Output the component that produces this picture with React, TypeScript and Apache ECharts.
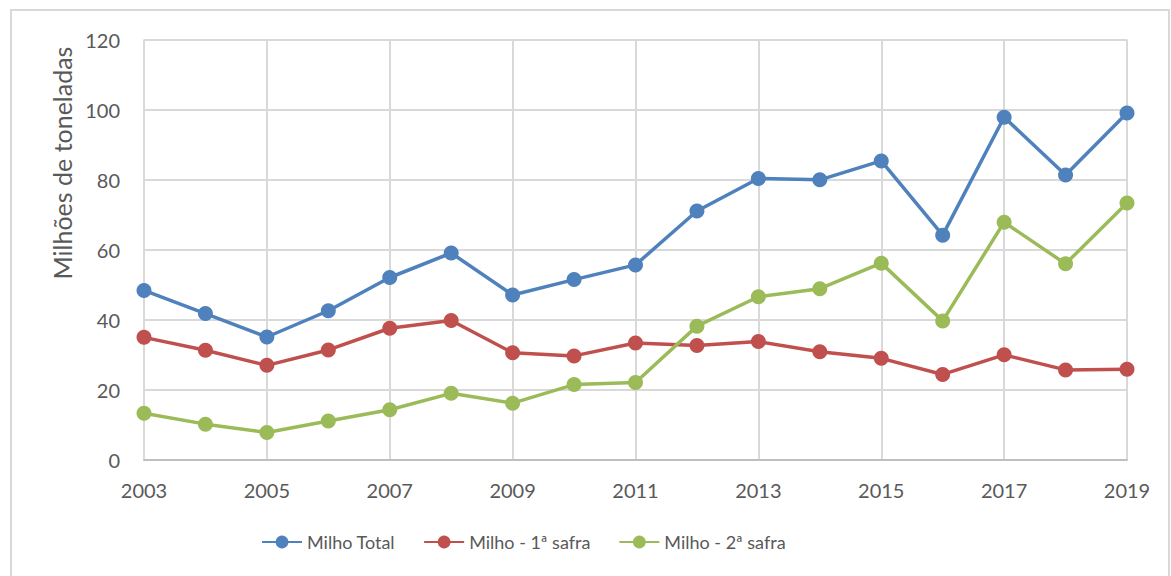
import React, { useEffect, useRef } from "react";
import * as echarts from "echarts";

const years = ["2003","2004","2005","2006","2007","2008","2009","2010","2011","2012","2013","2014","2015","2016","2017","2018","2019"];
const milhoTotal = [48.3, 41.7, 35.0, 42.5, 52.0, 59.0, 47.0, 51.4, 55.6, 71.0, 80.3, 79.9, 85.3, 64.1, 97.8, 81.3, 99.0];
const primeiraSafra = [34.9, 31.2, 26.9, 31.3, 37.5, 39.7, 30.5, 29.6, 33.3, 32.6, 33.7, 30.8, 28.9, 24.3, 29.9, 25.6, 25.8];
const segundaSafra = [13.2, 10.1, 7.7, 11.0, 14.2, 18.9, 16.1, 21.4, 22.0, 38.1, 46.5, 48.8, 56.1, 39.6, 67.8, 55.9, 73.3];
const seriesNames = ["Milho Total", "Milho - 1ª safra", "Milho - 2ª safra"];
const colors = ["#4f81bd", "#c0504d", "#9bbb59"];

const FONT = "Lato, 'Open Sans', sans-serif";

export default function App() {
  const ref = useRef<HTMLDivElement>(null);
  useEffect(() => {
    document.body.style.margin = "0";
    const chart = echarts.init(ref.current!, null, { renderer: "svg" });
    const mk = (name: string, data: number[], color: string) => ({
      name,
      type: "line",
      data,
      symbol: "circle",
      symbolSize: 15,
      itemStyle: { color },
      lineStyle: { color, width: 3.5 },
    });
    chart.setOption({
      animation: false,
      backgroundColor: "#ffffff",
      textStyle: { fontFamily: FONT },
      grid: { left: 144, right: 44, top: 39.5, bottom: 116.5 },
      graphic: [
        {
          type: "rect",
          shape: { x: 11, y: 10, width: 1158, height: 620 },
          style: { fill: "none", stroke: "#d9d9d9", lineWidth: 2 },
          silent: true,
        },
        {
          type: "text",
          x: 62,
          y: 163,
          rotation: Math.PI / 2,
          style: {
            text: "Milhões de toneladas",
            fill: "#595959",
            fontSize: 25,
            fontFamily: FONT,
            align: "center",
            verticalAlign: "middle",
          },
        },
      ],
      legend: {
        bottom: 20,
        left: 256,
        itemWidth: 40,
        itemHeight: 16,
        itemGap: 28,
        textStyle: { color: "#595959", fontSize: 18, fontFamily: FONT },
        data: seriesNames,
      },
      xAxis: {
        type: "category",
        data: years,
        boundaryGap: false,
        axisLine: { lineStyle: { color: "#bfbfbf", width: 2 } },
        axisTick: { show: false },
        axisLabel: { interval: 1, color: "#595959", fontSize: 20, margin: 20, fontFamily: FONT },
        splitLine: { show: true, interval: 1, lineStyle: { color: "#d9d9d9", width: 2 } },
      },
      yAxis: {
        type: "value",
        min: 0,
        max: 120,
        interval: 20,
        axisLine: { show: false },
        axisTick: { show: false },
        axisLabel: { color: "#595959", fontSize: 20, margin: 24, fontFamily: FONT },
        splitLine: { lineStyle: { color: "#d9d9d9", width: 2 } },
      },
      series: [
        mk(seriesNames[0], milhoTotal, colors[0]),
        mk(seriesNames[1], primeiraSafra, colors[1]),
        mk(seriesNames[2], segundaSafra, colors[2]),
      ],
    });
    return () => chart.dispose();
  }, []);
  return <div ref={ref} style={{ width: 1171, height: 576 }} />;
}
